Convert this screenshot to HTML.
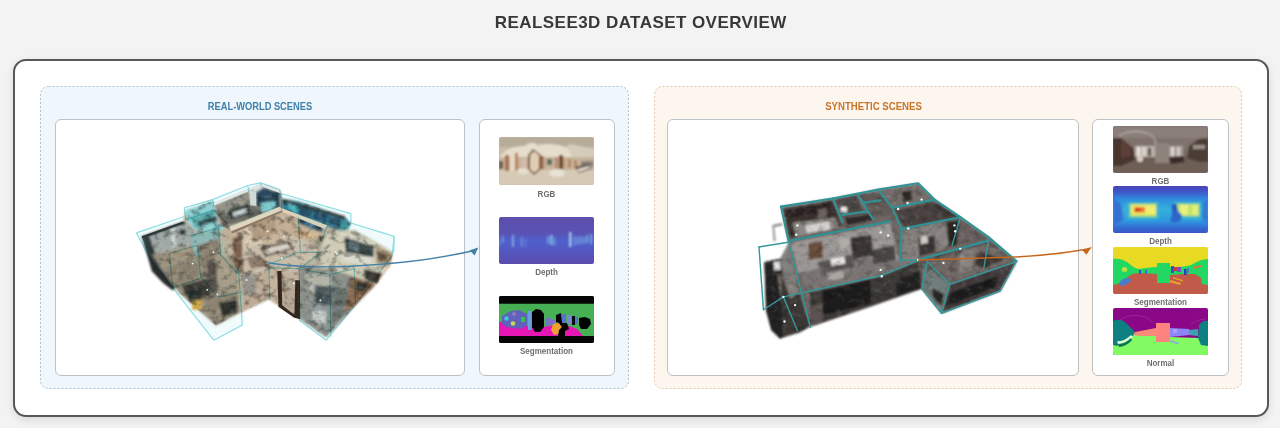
<!DOCTYPE html>
<html><head><meta charset="utf-8">
<style>
html,body{margin:0;padding:0;}
body{width:1280px;height:428px;background:#f3f3f3;font-family:"Liberation Sans",sans-serif;position:relative;overflow:hidden;}
.abs{position:absolute;box-sizing:border-box;}
#title{left:0.8px;width:1280px;top:12.8px;text-align:center;font-weight:bold;font-size:17px;letter-spacing:0.44px;color:#383838;line-height:20px;}
#outer{left:13px;top:59px;width:1256px;height:358px;background:#fff;border:2px solid #575757;border-radius:13px;box-shadow:0 3px 8px rgba(0,0,0,0.10);}
.grp{top:86px;height:303px;border-radius:8px;}
#g1{left:40px;width:589px;background:#f0f7fc;}
#g2{left:654px;width:588px;background:#fdf6ef;}
.panel{background:#fff;border:1px solid #bcc1c6;border-radius:6px;top:119px;height:257px;}
.gt{top:99px;height:14px;line-height:14px;font-size:10.5px;font-weight:bold;text-align:center;}
.lbl{font-size:9px;font-weight:bold;color:#6e6e6e;text-align:center;width:135px;height:10px;line-height:10px;transform:scaleX(0.89);}
.th{width:95px;height:48px;border-radius:2px;overflow:hidden;}
</style></head><body>
<div id="title" class="abs">REALSEE3D DATASET OVERVIEW</div>
<div id="outer" class="abs"></div>
<div id="g1" class="abs grp"></div>
<div id="g2" class="abs grp"></div>
<svg class="abs" style="left:0;top:0;" width="1280" height="428" viewBox="0 0 1280 428">
<rect x="40.5" y="86.5" width="588" height="302" rx="8" fill="none" stroke="#afc3cf" stroke-width="1" stroke-dasharray="2 2"/>
<rect x="654.5" y="86.5" width="587" height="302" rx="8" fill="none" stroke="#dfcab3" stroke-width="1" stroke-dasharray="2 2"/>
</svg>
<div class="abs gt" style="left:55px;width:410px;color:#3f7fa8;transform:scaleX(0.885);">REAL-WORLD SCENES</div>
<div class="abs gt" style="left:668px;width:411px;color:#c8752a;transform:scaleX(0.915);">SYNTHETIC SCENES</div>
<div class="abs panel" style="left:55px;width:410px;"></div>
<div class="abs panel" style="left:479px;width:136px;"></div>
<div class="abs panel" style="left:667px;width:412px;"></div>
<div class="abs panel" style="left:1092px;width:137px;"></div>

<!-- thumbnails real -->
<svg class="abs th" style="left:499px;top:137px;" viewBox="0 0 95 48" id="t_rgb1"><defs><filter id="b1" x="-5%" y="-5%" width="110%" height="110%"><feGaussianBlur stdDeviation="0.9"/></filter></defs>
<rect width="95" height="48" fill="#c9bca8"/>
<g filter="url(#b1)">
<rect x="0" y="0" width="95" height="10" fill="#b7ab99"/>
<path d="M0,20 C6,12 16,9 26,9 C30,5 36,5 38,8 C48,6 60,7 66,10 C70,12 72,16 73,20 C80,22 90,21 95,20 L95,26 L0,26 Z" fill="#e6ddcc"/>
<path d="M66,10 C70,12 72,16 73,20 C80,22 90,21 95,20 L95,12 L72,7Z" fill="#d6ccba"/>
<rect x="0" y="20" width="95" height="14" fill="#c6b49c"/>
<rect x="0" y="33" width="95" height="15" fill="#d6cab6"/>
<!-- doors -->
<rect x="6" y="18" width="4" height="16" fill="#a8724f"/>
<rect x="11" y="16" width="5" height="18" fill="#e5d9c6"/>
<rect x="16" y="16" width="3" height="18" fill="#b5805c"/>
<rect x="22" y="22" width="6" height="8" fill="#d8b8a8"/>
<path d="M29,18 L34,12 L42,18 L42,32 L35,38 L29,32Z" fill="#6b4a35"/>
<path d="M31,18 L35,14 L40,18 L40,32 L35,36 L31,32Z" fill="#e2cdb4"/>
<rect x="42" y="19" width="3" height="13" fill="#a87050"/>
<rect x="48" y="22" width="5" height="6" fill="#5e6e62"/>
<rect x="56" y="20" width="3" height="12" fill="#b58a68"/>
<rect x="60" y="18" width="4" height="14" fill="#6a4c34"/>
<rect x="64" y="20" width="2" height="12" fill="#c89a70"/>
<rect x="69" y="22" width="3" height="9" fill="#b48862"/>
<rect x="75" y="23" width="3" height="8" fill="#b48862"/>
<rect x="82" y="24" width="12" height="6" fill="#8a7f78"/>
<rect x="0" y="24" width="4" height="8" fill="#6a5a4c"/>
<ellipse cx="58" cy="36" rx="8" ry="4" fill="#e9e2d6"/>
<ellipse cx="24" cy="34" rx="6" ry="3" fill="#e9e0d2"/>
<path d="M76,30 L90,27 L92,32 L80,36Z" fill="#54443a"/>
<path d="M78,32 L90,29 L91,31 L80,35Z" fill="#e6ddd0"/>
</g>
</svg>
<div class="abs lbl" style="left:479px;top:188.5px;">RGB</div>
<svg class="abs th" style="left:499px;top:217px;height:47px;" viewBox="0 0 95 47" id="t_dep1"><defs><filter id="b2" x="-5%" y="-5%" width="110%" height="110%"><feGaussianBlur stdDeviation="0.8"/></filter>
<linearGradient id="dg1" x1="0" y1="0" x2="0" y2="1"><stop offset="0" stop-color="#5b4fab"/><stop offset="0.35" stop-color="#5a52b4"/><stop offset="0.5" stop-color="#5060cc"/><stop offset="0.68" stop-color="#5358c4"/><stop offset="1" stop-color="#5b4dae"/></linearGradient></defs>
<rect width="95" height="47" fill="url(#dg1)"/>
<g filter="url(#b2)" fill="#7fb4e6">
<rect x="3" y="19" width="1.5" height="7" opacity="0.8"/>
<rect x="0" y="22" width="1" height="8" opacity="0.6"/>
<rect x="13" y="18" width="2" height="12" opacity="0.9"/>
<rect x="22" y="20" width="1.5" height="10" opacity="0.7"/>
<rect x="26" y="22" width="1" height="8" opacity="0.5"/>
<rect x="48" y="19" width="2" height="8" opacity="0.7"/>
<rect x="51" y="18" width="3" height="10" opacity="0.9"/>
<rect x="55" y="21" width="1.5" height="8" opacity="0.6"/>
<rect x="70" y="15" width="2.5" height="15" opacity="0.95" fill="#9fd0ee"/>
<rect x="75" y="19" width="1.5" height="9" opacity="0.8"/>
<rect x="78" y="20" width="1.5" height="8" opacity="0.8"/>
<rect x="81" y="19" width="1.5" height="8" opacity="0.8"/>
<rect x="84" y="20" width="1.5" height="7" opacity="0.8"/>
<rect x="87" y="18" width="2" height="8" opacity="0.8"/>
<rect x="91" y="17" width="2" height="10" opacity="0.8"/>
</g>
</svg>
<div class="abs lbl" style="left:479px;top:266.8px;">Depth</div>
<svg class="abs th" style="left:499px;top:296px;height:47px;" viewBox="0 0 95 47" id="t_seg1"><defs><filter id="b3" x="-5%" y="-5%" width="110%" height="110%"><feGaussianBlur stdDeviation="0.5"/></filter></defs>
<rect width="95" height="47" fill="#060606"/>
<g filter="url(#b3)">
<rect x="0" y="7.5" width="95" height="32.5" fill="#47b055"/>
<path d="M0,26 L10,25 L28,30 L44,31 L56,29 L70,30 L78,33 L84,40 L0,40 Z" fill="#e512b4"/>
<path d="M3,20 L12,15 L20,14 L28,18 L28,30 L20,33 L8,31 L3,28Z" fill="#5e62b8"/>
<circle cx="7.5" cy="22.5" r="2.2" fill="#3fc8e0"/>
<circle cx="14" cy="27.5" r="2.3" fill="#c8d858"/>
<circle cx="15" cy="18" r="2" fill="#8a7ad0"/>
<rect x="22" y="21" width="4" height="5" fill="#35c050"/>
<rect x="29" y="15" width="3.5" height="19" fill="#6aa0e0"/>
<path d="M33,16 L37,13 L42,14 L45,18 L45,31 L41,36 L36,36 L33,31Z" fill="#050505"/>
<path d="M46,21 L56,24 L56,28 L46,30Z" fill="#7a70c8"/>
<path d="M54,28 L60,27 L63,32 L60,38 L55,39 L52,34Z" fill="#f0a030"/>
<path d="M57,19 L62,17 L63,26 L68,27 L70,33 L66,35 L66,40 L59,40 L60,34 L63,31 L60,27 L57,26Z" fill="#050505"/>
<rect x="63" y="18" width="4" height="9" fill="#5a70d0"/>
<rect x="68" y="19" width="4" height="9" fill="#7a88d8"/>
<rect x="73" y="20" width="3" height="9" fill="#0a0a0a"/>
<rect x="76" y="21" width="3" height="7" fill="#5a70d0"/>
<path d="M80,22 L86,21 L91,23 L92,28 L88,33 L82,33 L80,29Z" fill="#050505"/>
</g>
<rect x="0" y="0" width="95" height="7.5" fill="#060606"/>
<rect x="0" y="40" width="95" height="7" fill="#060606"/>
</svg>
<div class="abs lbl" style="left:479px;top:345.9px;">Segmentation</div>
<!-- thumbnails synthetic -->
<svg class="abs th" style="left:1113px;top:126px;height:47px;" viewBox="0 0 95 47" id="t_rgb2"><defs><filter id="b4" x="-5%" y="-5%" width="110%" height="110%"><feGaussianBlur stdDeviation="1.0"/></filter></defs>
<rect width="95" height="47" fill="#7b6c66"/>
<g filter="url(#b4)">
<rect x="0" y="0" width="95" height="14" fill="#8b7f7a"/>
<rect x="0" y="12" width="95" height="12" fill="#7f726c"/>
<rect x="0" y="30" width="95" height="17" fill="#6e5f57"/>
<path d="M0,12 L8,12 L20,22 L22,34 L8,40 L0,40Z" fill="#46342d"/>
<path d="M8,14 L18,22 L18,30 L8,32Z" fill="#5b4038"/>
<path d="M95,12 L86,13 L76,20 L74,32 L86,36 L95,36Z" fill="#4c3c35"/>
<rect x="80" y="19" width="12" height="4" fill="#9a928a"/>
<rect x="22" y="20" width="20" height="11" fill="#b9b0a8"/>
<rect x="24" y="21" width="3" height="9" fill="#e8e4de"/>
<rect x="29" y="21" width="4" height="9" fill="#d9d4cc"/>
<rect x="35" y="22" width="3" height="8" fill="#5a4a42"/>
<rect x="42" y="17" width="14" height="20" fill="#8d827c"/>
<rect x="56" y="20" width="14" height="11" fill="#a79e96"/>
<rect x="58" y="21" width="3" height="9" fill="#ddd8d0"/>
<rect x="64" y="21" width="3" height="9" fill="#d0cac2"/>
<ellipse cx="27" cy="33" rx="3" ry="3" fill="#d8d0c6"/>
<path d="M56,31 L70,30 L72,36 L58,38Z" fill="#3a2c28"/>
<path d="M6,10 C14,4 30,4 38,9 C42,12 43,16 42,19" fill="none" stroke="#c9c0ba" stroke-width="0.9"/>
</g>
</svg>
<div class="abs lbl" style="left:1093px;top:175.6px;">RGB</div>
<svg class="abs th" style="left:1113px;top:186px;height:47px;" viewBox="0 0 95 47" id="t_dep2"><defs><filter id="b5" x="-5%" y="-5%" width="110%" height="110%"><feGaussianBlur stdDeviation="0.9"/></filter>
<linearGradient id="dg2" x1="0" y1="0" x2="0" y2="1"><stop offset="0" stop-color="#4a44b8"/><stop offset="0.12" stop-color="#3f55c8"/><stop offset="0.28" stop-color="#2e8ce0"/><stop offset="0.5" stop-color="#36b0dc"/><stop offset="0.74" stop-color="#2f98e0"/><stop offset="0.9" stop-color="#3468d0"/><stop offset="1" stop-color="#3d55c6"/></linearGradient></defs>
<rect width="95" height="47" fill="url(#dg2)"/>
<g filter="url(#b5)">
<path d="M0,12 L8,18 L10,34 L0,40Z" fill="#3670d2"/>
<path d="M95,12 L90,17 L89,32 L95,38Z" fill="#3478d4"/>
<rect x="14" y="16" width="32" height="17" fill="#3cb8c8"/>
<rect x="60" y="16" width="28" height="17" fill="#3cb8c8"/>
<rect x="17" y="18" width="26" height="12.5" fill="#c8e060"/>
<rect x="19" y="19.5" width="24" height="9" fill="#f0ee70"/>
<rect x="21" y="21" width="11" height="5.5" fill="#ee7a30"/>
<rect x="22.5" y="22" width="5" height="3.5" fill="#d83a1c"/>
<rect x="64" y="18" width="22" height="12" fill="#c0e268"/>
<rect x="67" y="19" width="8" height="10" fill="#e8f080"/>
<rect x="79" y="19" width="6" height="10" fill="#e0ee78"/>
<path d="M60,19 L64,19 L65,25 L69,29 L68,34 L62,37 L57,35 L59,29Z" fill="#2a66c8"/>
<rect x="59" y="18" width="5" height="7" fill="#2858b8"/>
</g>
</svg>
<div class="abs lbl" style="left:1093px;top:236.1px;">Depth</div>
<svg class="abs th" style="left:1113px;top:247px;height:47px;" viewBox="0 0 95 47" id="t_seg2"><defs><filter id="b6" x="-5%" y="-5%" width="110%" height="110%"><feGaussianBlur stdDeviation="0.6"/></filter></defs>
<rect width="95" height="47" fill="#e8d922"/>
<g filter="url(#b6)">
<path d="M0,12 C4,11 10,12 14,15 C18,18 22,22 26,22 C32,21 38,20 44,20 L44,16 L57,16 L57,20 C64,20 72,20 78,18 C84,14 90,12 95,12 L95,47 L0,47Z" fill="#22d862"/>
<path d="M0,38 L5,37 C10,34 14,30 19,27 L26,26 L44,27 L44,36 L57,36 L57,28 L70,27 L82,27 L88,31 L89,37 L95,38 L95,47 L0,47Z" fill="#c25a4a"/>
<path d="M6,37 C7,33 11,31 16,31 L18,33 C17,36 13,38 8,39Z" fill="#4a7ad0"/>
<ellipse cx="11.5" cy="22.5" rx="2.8" ry="2.5" fill="#b8e040"/>
<rect x="58" y="19" width="3" height="7" fill="#3a50c8"/>
<rect x="61" y="20" width="3" height="4" fill="#c83a50"/>
<rect x="64" y="20" width="4" height="5" fill="#7a50c0"/>
<rect x="71" y="22" width="2.5" height="6" fill="#2840b8"/>
<rect x="74" y="21" width="2" height="5" fill="#5a70d0"/>
<path d="M57,33 L68,36 L67,38 L56,35Z" fill="#e8a030"/>
<path d="M60,30 L70,33 L70,34.5 L60,31.5Z" fill="#e8a030"/>
<path d="M80,20 L88,18 L88,20 L80,22Z" fill="#e87030"/>
<rect x="26" y="23" width="2" height="4" fill="#3a50c8"/>
<rect x="32" y="23" width="2" height="4" fill="#4a68c8"/>
</g>
</svg>
<div class="abs lbl" style="left:1093px;top:296.7px;">Segmentation</div>
<svg class="abs th" style="left:1113px;top:308px;height:47px;" viewBox="0 0 95 47" id="t_nor2"><defs><filter id="b7" x="-5%" y="-5%" width="110%" height="110%"><feGaussianBlur stdDeviation="0.6"/></filter></defs>
<rect width="95" height="47" fill="#8a0888"/>
<g filter="url(#b7)">
<path d="M0,30 L20,27 L43,27 L57,29 L85,30 L95,32 L95,47 L0,47Z" fill="#82fa62"/>
<path d="M0,13 C4,11 9,11 13,15 C17,19 20,22 22,24 L20,28 C14,30 8,34 4,38 L0,37Z" fill="#118182"/>
<path d="M95,13 C91,12 88,14 86,17 L85,30 L88,37 L95,38Z" fill="#118182"/>
<path d="M22,24 L43,20 L43,28 L28,28 L20,27Z" fill="#f58a78"/>
<rect x="43" y="15" width="14" height="19" fill="#fd8280"/>
<path d="M57,20 L76,21 L76,27 L57,29Z" fill="#8c86f8"/>
<path d="M60,21 L64,21 L64,25 L60,25Z" fill="#b0a0f0"/>
<path d="M76,22 L85,21 L85,28 L76,27Z" fill="#40a0b0"/>
<path d="M4,33 C8,34 14,31 18,27 L20,29 C16,34 9,37 5,36Z" fill="#d8ffd0"/>
<path d="M5,36 C10,36 15,33 18,30 L19,32 C16,36 10,39 6,39Z" fill="#0a7850"/>
<path d="M58,32 L66,35 L65,36.5 L57,33.5Z" fill="#8aa8e8"/>
<path d="M7,12 C16,5 32,6 40,14" fill="none" stroke="#a03088" stroke-width="0.8"/>
<path d="M78,17 C82,13 88,11 93,11" fill="none" stroke="#a03088" stroke-width="0.8"/>
</g>
</svg>
<div class="abs lbl" style="left:1093px;top:358.2px;">Normal</div>
<!-- models -->
<svg class="abs" style="left:0;top:0;" width="1280" height="428" viewBox="0 0 1280 428" id="models"><defs>
<filter id="mbS" x="-5%" y="-5%" width="110%" height="110%"><feGaussianBlur stdDeviation="4"/></filter>
<filter id="mbL" x="-5%" y="-5%" width="110%" height="110%"><feGaussianBlur stdDeviation="1.5"/></filter>
<filter id="nz" x="0" y="0" width="100%" height="100%" filterUnits="objectBoundingBox">
<feTurbulence type="fractalNoise" baseFrequency="0.028 0.034" numOctaves="3" seed="7" result="t"/>
<feColorMatrix in="t" type="matrix" values="0 0 0 0 0  0 0 0 0 0  0 0 0 0 0  3.2 0 0 0 -1.55" result="a"/>
<feComposite in="a" in2="SourceGraphic" operator="in"/>
</filter>
<filter id="nzw" x="0" y="0" width="100%" height="100%" filterUnits="objectBoundingBox">
<feTurbulence type="fractalNoise" baseFrequency="0.03 0.036" numOctaves="3" seed="23" result="t"/>
<feColorMatrix in="t" type="matrix" values="0 0 0 0 1  0 0 0 0 1  0 0 0 0 1  0 3.2 0 0 -1.7" result="a"/>
<feComposite in="a" in2="SourceGraphic" operator="in"/>
</filter>
<clipPath id="clipR"><path d="M95,262 L270,200 L280,150 L395,110 L400,125 L550,62 L600,38 L685,70 L690,100 L760,112 L958,176 L985,208 L965,235 L1000,235 L1110,295 L1165,330 L1155,385 L1090,470 L1000,560 L880,692 L765,612 L745,605 L680,560 L635,530 L520,585 L410,642 L250,500 L170,385 L130,340 L110,300Z"/></clipPath>
<clipPath id="clipS"><path d="M175,135 L395,100 L590,62 L760,35 L830,105 L940,180 L1060,265 L1180,368 L1110,495 L860,590 L775,485 L560,560 L300,648 L253,672 L171,699 L134,662 L111,579 L104,372 L171,357 L200,352 L207,285Z"/></clipPath>
</defs>
<!-- REAL model : S-space = 4.267*(src-(120,175)) -->
<g transform="translate(120,175) scale(0.23436)">
<g filter="url(#mbS)">
<!-- base silhouette -->
<path d="M95,262 L270,200 L280,150 L395,110 L400,125 L550,62 L600,38 L685,70 L690,100 L760,112 L958,176 L985,208 L965,235 L1000,235 L1110,295 L1165,330 L1155,385 L1090,470 L1000,560 L880,692 L765,612 L745,605 L680,560 L635,530 L520,585 L410,642 L250,500 L170,385 L130,340 L110,300Z" fill="#bfae98"/>
<!-- LEFT WING -->
<path d="M100,268 L270,205 L320,240 L320,300 L190,350 L125,330Z" fill="#a6a39e"/>
<path d="M215,228 L235,222 L240,300 L222,308Z" fill="#d6d6d4"/>
<rect x="254" y="232" width="26" height="24" fill="#262626"/>
<path d="M93,262 L270,198 L272,208 L98,272Z" fill="#2a2a2a"/>
<path d="M92,259 L126,262 L172,394 L212,440 L238,482 L224,492 L185,462 L136,411Z" fill="#2a2a2a"/>
<path d="M137,340 L320,300 L420,330 L500,420 L510,580 L410,642 L250,500 L195,425Z" fill="#9a836d"/>
<path d="M180,330 L300,300 L310,360 L200,395Z" fill="#a88e76"/>
<path d="M200,395 L310,360 L360,420 L260,470Z" fill="#8e7864"/>
<path d="M300,260 L420,225 L430,330 L320,345Z" fill="#8fb5b0"/>
<path d="M330,300 L420,270 L440,420 L350,440Z" fill="#8d7662"/>
<path d="M373,365 L421,352 L425,495 L377,510Z" fill="#54423a"/>
<path d="M405,340 L490,350 L500,500 L420,510Z" fill="#ab957d"/>
<path d="M260,470 L380,440 L385,520 L300,545Z" fill="#3a2e26"/>
<path d="M270,500 L345,480 L350,515 L300,535Z" fill="#1e1a16"/>
<rect x="308" y="535" width="42" height="40" fill="#d9a032"/>
<path d="M350,520 L500,500 L510,585 L410,640Z" fill="#8f7963"/>
<path d="M420,545 L500,530 L500,590 L440,600Z" fill="#2a221c"/>
<path d="M505,400 L635,395 L635,530 L520,585Z" fill="#bdab96"/>
<path d="M520,415 L580,410 L582,505 L528,515Z" fill="#97928a"/>
<!-- small back box (cyan glass) -->
<path d="M280,150 L395,110 L440,150 L450,230 L330,240 L285,200Z" fill="#8fd0d2"/>
<path d="M300,180 L400,150 L410,200 L320,225Z" fill="#5aa8a8"/>
<path d="M330,200 L440,165 L445,185 L335,222Z" fill="#2c3a3a"/>
<!-- TOP ROOM -->
<path d="M400,125 L550,62 L600,38 L685,70 L690,150 L560,185 L420,215Z" fill="#b9b3aa"/>
<path d="M405,128 L550,68 L555,125 L418,170Z" fill="#988a7e"/>
<path d="M580,72 L600,50 L682,76 L684,140 L582,134Z" fill="#22384f"/>
<path d="M555,58 L600,38 L625,48 L580,72Z" fill="#e4e4e4"/>
<path d="M418,170 L556,128 L686,140 L690,150 L560,188 L440,222Z" fill="#6c6056"/>
<path d="M460,150 L550,120 L555,165 L470,190Z" fill="#262424"/>
<path d="M480,160 L540,142 L542,160 L485,178Z" fill="#d8d8d8"/>
<path d="M600,120 L660,110 L665,145 L605,160Z" fill="#7ec8cc"/>
<!-- beam -->
<!-- CENTER -->
<path d="M475,238 L690,152 L760,180 L770,330 L640,380 L500,420Z" fill="#c7b59c"/>
<path d="M520,235 L600,205 L605,290 L525,320Z" fill="#d6c7ae"/>
<path d="M560,200 L660,165 L665,250 L565,285Z" fill="#b09a80"/>
<path d="M665,160 L750,185 L752,260 L668,245Z" fill="#c2ae94"/>
<path d="M480,270 L520,255 L525,420 L490,420Z" fill="#7a6250"/>
<path d="M520,320 L770,260 L860,330 L760,400 L640,420 L540,420Z" fill="#c9bdaa"/>
<path d="M595,310 L720,280 L745,315 L620,350Z" fill="#6e5e50"/>
<path d="M615,315 L715,292 L728,312 L628,338Z" fill="#d9d2c6"/>
<path d="M540,350 L600,345 L640,390 L560,400Z" fill="#8e7c6a"/>
<!-- RIGHT BACK ROOM -->
<path d="M690,100 L760,112 L958,176 L985,208 L965,240 L880,222 L690,150Z" fill="#3d7f8e"/>
<path d="M694,102 L960,176 L958,192 L696,118Z" fill="#2e2420"/>
<path d="M700,116 L953,188 L941,225 L700,152Z" fill="#2a7c94"/>
<path d="M765,136 L820,152 L816,184 L762,168Z" fill="#1a3c58"/>
<path d="M828,156 L886,173 L881,204 L825,188Z" fill="#1b4060"/>
<path d="M893,175 L944,190 L937,221 L889,207Z" fill="#1f3a52"/>
<path d="M720,124 L755,134 L753,160 L719,150Z" fill="#48b4bc"/>
<path d="M765,170 L872,218 L862,246 L760,205Z" fill="#24384e"/>
<path d="M790,190 L835,208 L832,226 L788,210Z" fill="#3a6a90"/>
<path d="M755,228 L860,245 L865,280 L760,266Z" fill="#d9b48c"/>
<path d="M845,258 L885,262 L885,290 L850,286Z" fill="#2a2624"/>
<path d="M940,215 L985,208 L968,250 L930,255Z" fill="#3f9aa0"/>
<!-- RIGHT ROOM -->
<path d="M865,275 C880,250 930,232 985,235 L1110,295 L1165,330 L1155,385 L1090,470 L960,420 L860,400Z" fill="#d9c9b1"/>
<path d="M940,238 L1110,295 L1105,312 L945,255Z" fill="#e2d4be"/>
<path d="M958,265 L1085,305 L1082,350 L962,330Z" fill="#353535"/>
<path d="M975,278 L1020,292 L1018,325 L977,318Z" fill="#5a6468"/>
<path d="M950,335 L1080,352 L1060,385 L955,370Z" fill="#e6dccb"/>
<path d="M1090,300 L1160,335 L1150,385 L1095,375Z" fill="#a68160"/>
<path d="M1100,330 L1140,345 L1135,370 L1102,362Z" fill="#5c4332"/>
<!-- CENTER FRONT WALL + door -->
<path d="M635,395 L765,400 L765,612 L745,605 L680,560 L635,530Z" fill="#c4b39e"/>
<path d="M690,430 L748,450 L745,595 L692,555Z" fill="#b6a694"/>
<!-- RIGHT WING LOWER -->
<path d="M765,400 L860,400 L960,420 L1090,470 L1000,560 L880,692 L765,612Z" fill="#8e867e"/>
<path d="M790,420 L900,425 L905,500 L795,500Z" fill="#b9afa2"/>
<path d="M830,470 L940,480 L930,560 L835,550Z" fill="#4a4c50"/>
<path d="M800,540 L900,560 L890,670 L800,610Z" fill="#8d8b88"/>
<path d="M820,570 L880,585 L875,640 L825,620Z" fill="#d0cdc8"/>
<path d="M900,500 L985,470 L990,560 L905,640Z" fill="#6b6762"/>
<path d="M985,430 L1085,465 L1000,560 L960,590Z" fill="#8c5a3a"/>
<path d="M1010,450 L1060,468 L1040,500 L1005,490Z" fill="#2a201a"/>
<path d="M1040,400 L1120,420 L1095,465 L1045,445Z" fill="#3a2a22"/>
</g>
<g clip-path="url(#clipR)"><rect x="60" y="20" width="1130" height="700" fill="#2a1e14" filter="url(#nz)" opacity="0.4"/><rect x="60" y="20" width="1130" height="700" fill="#fff" filter="url(#nzw)" opacity="0.16"/></g>
<g filter="url(#mbL)"><path d="M671,410 L689,410 L692,556 L744,596 L748,448 L768,450 L768,616 L742,608 L676,562Z" fill="#33261f"/>
<path d="M93,261 L270,198 L272,207 L97,270Z" fill="#222"/>
<path d="M398,122 L550,60 L552,68 L402,130Z" fill="#ecebe8"/>
<path d="M550,60 L600,37 L686,68 L684,78 L600,47 L553,68Z" fill="#e8e8e6"/>
<path d="M552,66 L580,72 L582,132 L556,128Z" fill="#dcdad6"/>
<path d="M465,222 L680,136 L692,150 L476,240Z" fill="#e4d6bd"/>
<path d="M680,138 L884,214 L876,232 L686,155Z" fill="#e0d1b8"/>
<path d="M476,240 L692,150 L694,158 L478,250Z" fill="#8e7a66"/></g>
<!-- cyan translucent panels -->
<g fill="#7fe0e4" opacity="0.10" filter="url(#mbS)">
<path d="M70,247 L272,178 L275,140 L395,105 L400,130 L500,420 L520,640 L400,705 L130,360Z"/>
<path d="M505,395 L520,400 L530,640 L400,705 L395,650Z"/>
<path d="M690,80 L985,165 L985,200 L1170,262 L1160,345 L880,705 L765,620 L765,400 L860,330 L760,180Z"/>
<path d="M395,105 L545,45 L600,33 L682,62 L685,100 L690,150 L470,230Z"/>
</g>
<!-- cyan wireframe -->
<g fill="none" stroke="#66d2d9" stroke-width="5" opacity="0.72" filter="url(#mbL)" stroke-linejoin="round" style="mix-blend-mode:multiply">
<path d="M70,247 L272,178"/>
<path d="M70,247 L130,360 L400,705 L522,640"/>
<path d="M95,262 L130,360"/>
<path d="M275,140 L395,105 L545,45 L600,33 L682,62 L685,100"/>
<path d="M275,140 L280,190 M395,105 L400,135 M545,45 L550,70 M600,33 L602,45"/>
<path d="M285,190 L400,150 L450,200"/>
<path d="M690,80 L985,165 L985,205"/>
<path d="M690,80 L690,150"/>
<path d="M985,205 L1170,262 L1160,345 L1000,560 L880,705 L765,620"/>
<path d="M1170,262 L1168,330"/>
<path d="M505,395 L522,640"/>
<path d="M635,395 L640,530"/>
<path d="M765,400 L768,620"/>
<path d="M210,335 L330,300 L345,440 L225,480Z"/>
<path d="M300,260 L420,225 L430,345"/>
<path d="M420,330 L500,420"/>
<path d="M635,395 L765,400 L860,330"/>
<path d="M765,400 L895,425 L900,690"/>
<path d="M895,425 L1000,400 L1005,555"/>
<path d="M760,180 L770,330"/>
<path d="M880,222 L865,275"/>
<path d="M640,380 L760,330 L860,330"/>
<path d="M350,440 L420,520 L520,500"/>
</g>
<g fill="#eaffff">
<circle cx="310" cy="378" r="4"/><circle cx="398" cy="330" r="4"/><circle cx="372" cy="490" r="4"/><circle cx="415" cy="510" r="4"/><circle cx="540" cy="448" r="4"/><circle cx="742" cy="462" r="4"/><circle cx="925" cy="335" r="4"/><circle cx="700" cy="262" r="4"/><circle cx="630" cy="240" r="4"/><circle cx="855" cy="535" r="4"/><circle cx="690" cy="355" r="4"/><circle cx="920" cy="330" r="4"/>
</g>
</g>
<!-- blue arrow -->
<path d="M268.6,263 C290,266 320,267.5 345,266.5 C390,264.5 430,260.5 472,251" fill="none" stroke="#4580a8" stroke-width="1.4"/>
<path d="M478.3,247.4 L469.6,250.2 L474.6,255.4Z" fill="#4580a8"/>
<!--SYN--><!-- SYN model : S-space = 4.267*(src-(740,175)) -->
<g transform="translate(740,175) scale(0.23436)">
<g filter="url(#mbS)">
<!-- silhouette -->
<path d="M175,135 L395,100 L590,62 L760,35 L830,105 L940,180 L1060,265 L1180,368 L1110,495 L860,590 L775,485 L560,560 L300,648 L253,672 L171,699 L134,662 L111,579 L104,372 L171,357 L200,352 L207,285Z" fill="#6e6865"/>
<!-- balcony -->
<path d="M171,357 L207,290 L250,500 L215,530 L185,420Z" fill="#827f7c"/>
<path d="M175,420 L215,530 L250,500 L300,645 L253,672 L180,690Z" fill="#3a3735"/>
<path d="M104,372 L150,362 L178,560 L182,690 L171,699 L134,662 L111,579Z" fill="#222222"/>
<path d="M104,372 L171,357 L182,420 L108,440Z" fill="#2a2a2a"/>
<path d="M143,372 L170,368 L174,404 L146,408Z" fill="#e4e4e4"/>
<path d="M138,213 L178,205 L182,215 L146,222 L152,282 L144,284Z" fill="#8a8a8a"/>
<!-- room1 -->
<path d="M185,145 L395,110 L432,215 L215,272Z" fill="#3b312d"/>
<path d="M225,205 L405,180 L425,225 L238,265Z" fill="#8d8884"/>
<path d="M280,215 L380,200 L385,232 L285,248Z" fill="#d6d4d2"/>
<path d="M200,150 L380,120 L385,150 L205,185Z" fill="#2c2421"/>
<path d="M330,145 L370,140 L372,180 L334,186Z" fill="#6a625c"/>
<!-- room2 -->
<path d="M405,105 L495,88 L532,160 L440,178Z" fill="#4d4846"/>
<rect x="430" y="136" width="26" height="24" fill="#f0f0f0"/>
<!-- room3 -->
<path d="M510,82 L585,70 L640,125 L545,138Z" fill="#5e5855"/>
<!-- room4 -->
<path d="M600,66 L755,42 L822,106 L655,136Z" fill="#756e6b"/>
<path d="M690,72 L730,68 L735,108 L695,114Z" fill="#2e2a28"/>
<!-- room5 -->
<path d="M445,182 L550,167 L572,192 L460,216Z" fill="#2f2b29"/>
<!-- room6 -->
<path d="M552,128 L640,116 L652,170 L576,182Z" fill="#625c59"/>
<!-- room7 -->
<path d="M660,150 L825,116 L935,182 L700,226Z" fill="#4a4340"/>
<path d="M696,236 L935,190 L900,300 L760,362 L690,365Z" fill="#85807d"/>
<path d="M760,270 L830,258 L835,330 L765,350Z" fill="#3e3836"/>
<path d="M770,262 L800,256 L802,290 L772,296Z" fill="#d0ccc8"/>
<!-- room8 far right -->
<path d="M838,118 L932,176 L900,182 L830,130Z" fill="#3a3432"/>
<path d="M942,188 L1058,270 L905,305Z" fill="#68615e"/>
<path d="M880,200 L935,192 L925,300 L890,305Z" fill="#2a2624"/>
<!-- living room -->
<path d="M215,290 L640,205 L680,365 L760,365 L600,432 L300,500 L250,420Z" fill="#9b9794"/>
<path d="M250,420 L520,350 L680,365 L760,365 L600,432 L300,500Z" fill="#7a7572"/>
<path d="M290,292 L350,282 L355,352 L295,362Z" fill="#6a4e3c"/>
<path d="M420,270 L470,262 L472,310 L424,318Z" fill="#aeaaa6"/>
<path d="M470,268 L560,255 L570,345 L480,360Z" fill="#3a3634"/>
<path d="M330,372 L470,340 L490,392 L345,420Z" fill="#5a5552"/>
<path d="M385,358 L445,348 L450,378 L392,388Z" fill="#e8e6e2"/>
<path d="M370,420 L440,408 L445,440 L378,452Z" fill="#aaa6a2"/>
<path d="M560,320 L660,300 L665,362 L570,380Z" fill="#4a4644"/>
<!-- front wall -->
<path d="M300,500 L600,432 L760,368 L775,485 L560,560 L300,648Z" fill="#3e3a38"/>
<path d="M350,492 L555,445 L560,545 L355,600Z" fill="#1c1a1a"/>
<path d="M665,448 L770,410 L772,480 L668,520Z" fill="#222020"/>
<path d="M300,560 L350,545 L352,630 L302,645Z" fill="#5a5350"/>
<!-- right wing box -->
<path d="M765,365 L1060,280 L1180,368 L1110,495 L860,590 L775,485Z" fill="#5c5552"/>
<path d="M800,372 L1060,292 L1175,370 L895,465Z" fill="#6f6865"/>
<path d="M940,330 L1000,310 L990,400 L935,420Z" fill="#8a8480"/>
<path d="M1020,330 L1130,360 L1040,400 L1000,380Z" fill="#3a3432"/>
<path d="M895,468 L1178,372 L1110,495 L862,588Z" fill="#443e3c"/>
<path d="M900,500 L1100,430 L1090,480 L880,560Z" fill="#1e1c1c"/>
<path d="M780,375 L895,468 L862,588 L778,485Z" fill="#6f7d7a"/>
<path d="M820,480 L870,510 L860,560 L822,520Z" fill="#2c2a28"/>
</g>
<g clip-path="url(#clipS)"><rect x="80" y="20" width="1110" height="700" fill="#0e0c0c" filter="url(#nz)" opacity="0.2"/><rect x="80" y="20" width="1110" height="700" fill="#d8d4d0" filter="url(#nzw)" opacity="0.1"/></g>
<!-- teal wall tops -->
<g fill="none" stroke="#2f9296" stroke-width="9" filter="url(#mbL)" stroke-linejoin="round" stroke-linecap="round">
<path d="M175,135 L395,100 L500,80 L590,62 L760,35 L830,105 L940,180 L1060,265 L1180,368"/>
<path d="M175,135 L207,282 L640,198"/>
<path d="M395,100 L437,200"/>
<path d="M500,80 L545,155 L570,190"/>
<path d="M437,170 L545,155"/>
<path d="M530,118 L600,108"/>
<path d="M590,62 L650,140 L690,230 L682,365"/>
<path d="M650,140 L830,105"/>
<path d="M690,230 L940,180"/>
<path d="M760,362 L1060,280"/>
</g>
<g fill="none" stroke="#35979b" stroke-width="6" filter="url(#mbL)" stroke-linejoin="round" stroke-linecap="round">
<path d="M81,307 L207,287"/>
<path d="M81,307 L100,575"/>
<path d="M207,285 L300,650"/>
<path d="M100,575 L185,520 L300,495 L600,430 L760,365"/>
<path d="M185,520 L245,665"/>
<path d="M940,180 L905,300"/>
<path d="M800,365 L775,485 L860,590 L1110,495 L1180,368"/>
<path d="M800,370 L895,466 L1178,370"/>
<path d="M895,466 L860,590"/>
<path d="M1060,280 L1040,400"/>
<path d="M682,365 L760,362"/>
</g>
<g fill="#f2ffff">
<circle cx="240" cy="255" r="5"/><circle cx="245" cy="215" r="5"/><circle cx="600" cy="245" r="5"/><circle cx="632" cy="258" r="5"/><circle cx="718" cy="228" r="5"/><circle cx="775" cy="105" r="5"/><circle cx="715" cy="120" r="5"/><circle cx="675" cy="145" r="5"/><circle cx="915" cy="215" r="5"/><circle cx="918" cy="240" r="5"/><circle cx="940" cy="315" r="5"/><circle cx="868" cy="375" r="5"/><circle cx="760" cy="362" r="5"/><circle cx="600" cy="405" r="5"/><circle cx="605" cy="432" r="5"/><circle cx="185" cy="520" r="5"/><circle cx="235" cy="555" r="5"/><circle cx="190" cy="625" r="5"/>
</g>
</g>
<!-- orange arrow -->
<path d="M918,260 C950,259 990,258 1015,257 C1040,255.8 1062,253.5 1085,249.5" fill="none" stroke="#c4671f" stroke-width="1.5"/>
<path d="M1091.8,247 L1082,249.5 L1086.3,254.7Z" fill="#c4671f"/>
</svg>
</body></html>
